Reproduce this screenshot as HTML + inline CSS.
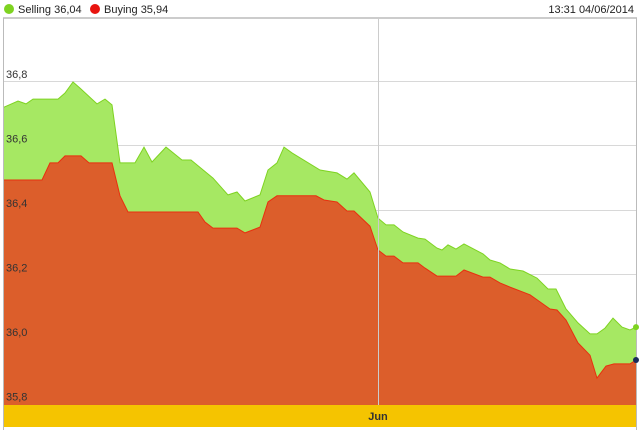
<!DOCTYPE html>
<html><head><meta charset="utf-8"><style>
body{margin:0;background:#fff;width:640px;height:432px;overflow:hidden;font-family:"Liberation Sans",sans-serif}
svg{display:block}
</style></head><body>
<svg id="chart" width="640" height="432" xmlns="http://www.w3.org/2000/svg">
<g>
<circle cx="9" cy="9" r="5" fill="#7ed321"/>
<text x="18" y="13" font-size="11" fill="#222">Selling 36,04</text>
<circle cx="95" cy="9" r="5" fill="#e8140f"/>
<text x="104" y="13" font-size="11" fill="#222">Buying 35,94</text>
<text x="634" y="13" font-size="11" fill="#222" text-anchor="end">13:31 04/06/2014</text>
</g>
<line x1="3" y1="18" x2="637" y2="18" stroke="#bbb" stroke-width="1.5"/>
<line x1="3.5" y1="18" x2="3.5" y2="430" stroke="#bbb"/>
<line x1="636.5" y1="18" x2="636.5" y2="430" stroke="#bbb"/>
<g id="grid"></g>
<g id="series"></g>
<line x1="378.5" y1="18" x2="378.5" y2="405" stroke="#ccc"/>
<g id="labels"></g>
<rect x="4" y="405" width="632" height="22" fill="#f5c400"/>
<text x="378" y="420" font-size="11" font-weight="bold" fill="#333" text-anchor="middle">Jun</text>
</svg>
<script>
const sellT=[0,14,22,29,54,61,69,76,93,101,108,116,131,140,148,162,178,187,209,224,233,241,256,264,273,280,288,316,333,343,350,366,374,382,390,399,414,421,433,438,444,452,460,479,486,496,506,519,533,544,552,562,574,586,593,601,609,618,626,632];
const sellV=[36.722,36.741,36.732,36.747,36.747,36.766,36.800,36.781,36.732,36.747,36.729,36.549,36.549,36.598,36.552,36.598,36.558,36.558,36.502,36.450,36.459,36.431,36.450,36.527,36.549,36.598,36.580,36.527,36.518,36.499,36.518,36.459,36.378,36.357,36.357,36.335,36.316,36.313,36.285,36.279,36.295,36.282,36.298,36.267,36.248,36.239,36.220,36.214,36.192,36.158,36.158,36.096,36.053,36.019,36.019,36.037,36.068,36.040,36.031,36.040];
const buyT=[0,38,46,54,61,77,85,108,116,124,194,201,209,233,241,256,264,273,312,320,333,343,350,366,374,382,390,399,414,421,433,452,460,479,486,496,506,526,536,546,553,562,574,586,593,602,610,626,632];
const buyV=[36.496,36.496,36.549,36.549,36.571,36.571,36.549,36.549,36.447,36.397,36.397,36.366,36.347,36.347,36.332,36.350,36.428,36.447,36.447,36.434,36.428,36.400,36.400,36.353,36.279,36.260,36.260,36.239,36.239,36.223,36.198,36.198,36.217,36.195,36.195,36.177,36.164,36.140,36.118,36.096,36.093,36.062,35.991,35.953,35.882,35.919,35.926,35.926,35.938];
const yTicks=[36.8,36.6,36.4,36.2,36.0,35.8];
const yTickLabels=["36,8","36,6","36,4","36,2","36,0","35,8"];
const NS="http://www.w3.org/2000/svg";
const xs=t=>4+t;
const ys=v=>82+(36.8-v)*322.5;
const base=405;
function area(T,V){let d="M"+xs(T[0])+","+base;T.forEach((t,i)=>d+="L"+xs(t)+","+ys(V[i]).toFixed(1));return d+"L"+xs(T[T.length-1])+","+base+"Z";}
function line(T,V){return T.map((t,i)=>(i?"L":"M")+xs(t)+","+ys(V[i]).toFixed(1)).join("");}
const grid=document.getElementById("grid"),ser=document.getElementById("series"),lab=document.getElementById("labels");
yTicks.forEach((v,i)=>{
 const l=document.createElementNS(NS,"line");
 
 
 l.setAttribute("x1",4);l.setAttribute("x2",636);l.setAttribute("y1",ys(v).toFixed(0)-0.5);l.setAttribute("y2",ys(v).toFixed(0)-0.5);l.setAttribute("stroke","#d8d8d8");grid.appendChild(l);
 const t=document.createElementNS(NS,"text");
 
 
 t.setAttribute("x",6);t.setAttribute("y",ys(v)-4);t.setAttribute("font-size","11");t.setAttribute("fill","#333");t.textContent=yTickLabels[i];lab.appendChild(t);
});
const sa=document.createElementNS(NS,"path");


sa.setAttribute("d",area(sellT,sellV));sa.setAttribute("fill","#a6e863");ser.appendChild(sa);
const sl=document.createElementNS(NS,"path");


sl.setAttribute("d",line(sellT,sellV));sl.setAttribute("fill","none");sl.setAttribute("stroke","#7ed321");ser.appendChild(sl);
const ba=document.createElementNS(NS,"path");


ba.setAttribute("d",area(buyT,buyV));ba.setAttribute("fill","#dc5e2b");ser.appendChild(ba);
const bl=document.createElementNS(NS,"path");


bl.setAttribute("d",line(buyT,buyV));bl.setAttribute("fill","none");bl.setAttribute("stroke","#e8300f");ser.appendChild(bl);
const e1=document.createElementNS(NS,"circle");


e1.setAttribute("cx",xs(sellT[sellT.length-1]));e1.setAttribute("cy",ys(sellV[sellV.length-1]));e1.setAttribute("r",3);e1.setAttribute("fill","#7ed321");ser.appendChild(e1);
const e2=document.createElementNS(NS,"circle");


e2.setAttribute("cx",xs(buyT[buyT.length-1]));e2.setAttribute("cy",ys(buyV[buyV.length-1]));e2.setAttribute("r",3);e2.setAttribute("fill","#1a2a5a");ser.appendChild(e2);
</script>
</body></html>
